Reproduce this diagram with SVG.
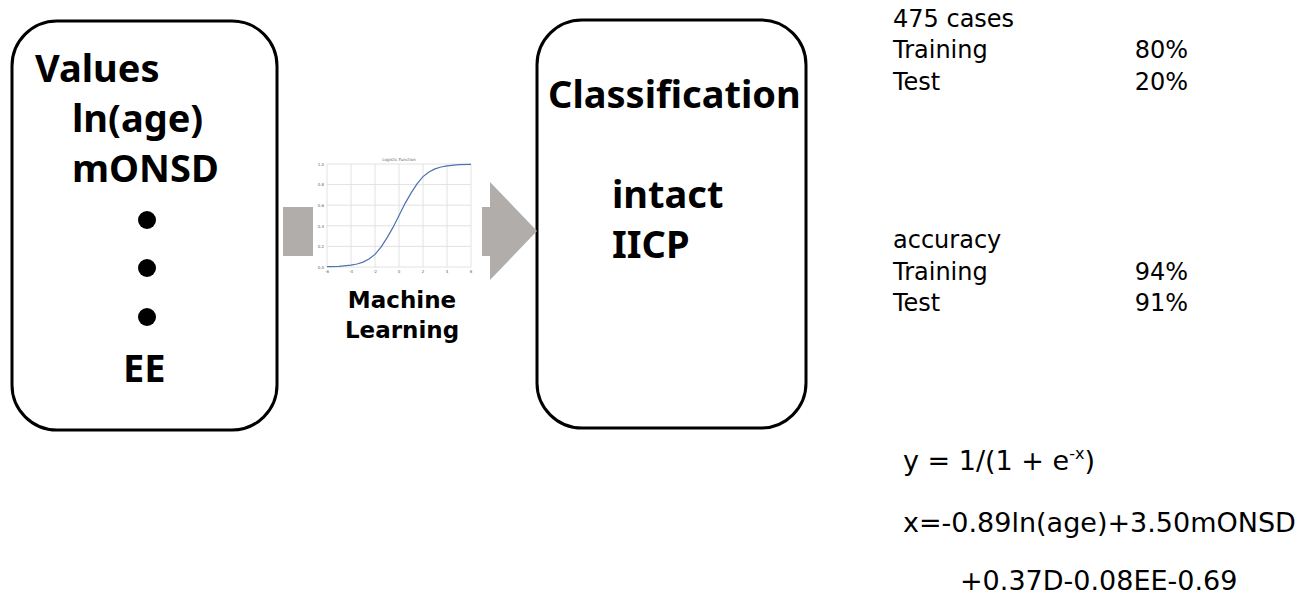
<svg xmlns="http://www.w3.org/2000/svg" width="1301" height="609" viewBox="0 0 1301 609">
  <style>
    .box { fill: #ffffff; stroke: #000000; stroke-width: 3; }
    .big { font-family: "Noto Sans", "DejaVu Sans", sans-serif; font-weight: bold; font-size: 38px; fill: #000; }
    .mid { font-family: "DejaVu Sans", "Noto Sans", sans-serif; font-weight: bold; font-size: 23px; fill: #000; }
    .info { font-family: "DejaVu Sans", "Noto Sans", sans-serif; font-size: 24px; fill: #000; }
    .eq { font-family: "DejaVu Sans", "Noto Sans", sans-serif; font-size: 27px; fill: #000; }
    .arrow { fill: #b0adab; }
    .grid { stroke: #e2e2e2; stroke-width: 1; fill: none; }
    .tick { font-family: "DejaVu Sans", sans-serif; font-size: 4px; fill: #666; }
  </style>
  <rect width="1301" height="609" fill="#ffffff"/>

  <!-- input values -->
  <g id="values">
    <rect class="box" x="12" y="21" width="265" height="409" rx="45" ry="45"/>
    <text class="big" x="35" y="82" font-size="39">Values</text>
    <text class="big" x="72" y="132">ln(age)</text>
    <text class="big" x="72" y="182">mONSD</text>
    <circle cx="147" cy="220" r="9"/>
    <circle cx="147" cy="268" r="9"/>
    <circle cx="147" cy="317" r="9"/>
    <text class="big" x="123" y="382">EE</text>
  </g>

  <!-- classification output -->
  <g id="classification">
    <rect class="box" x="537" y="20" width="269" height="408" rx="45" ry="45"/>
    <text class="big" x="548" y="108">Classification</text>
    <text class="big" x="612" y="208">intact</text>
    <text class="big" x="612" y="258">IICP</text>
  </g>

  <!-- machine learning step with logistic curve -->
  <g id="machine-learning">
    <rect x="317" y="156" width="160" height="123" fill="#ffffff"/>
    <g class="grid">
      <line x1="327" y1="164" x2="327" y2="267"/>
      <line x1="351" y1="164" x2="351" y2="267"/>
      <line x1="375" y1="164" x2="375" y2="267"/>
      <line x1="399" y1="164" x2="399" y2="267"/>
      <line x1="423" y1="164" x2="423" y2="267"/>
      <line x1="447" y1="164" x2="447" y2="267"/>
      <line x1="471" y1="164" x2="471" y2="267"/>
      <line x1="327" y1="164" x2="471" y2="164"/>
      <line x1="327" y1="184.6" x2="471" y2="184.6"/>
      <line x1="327" y1="205.2" x2="471" y2="205.2"/>
      <line x1="327" y1="225.8" x2="471" y2="225.8"/>
      <line x1="327" y1="246.4" x2="471" y2="246.4"/>
      <line x1="327" y1="267" x2="471" y2="267"/>
    </g>
    <text class="tick" x="399" y="161" text-anchor="middle" font-size="5">Logistic Function</text>
    <g class="tick" text-anchor="end">
      <text x="324" y="166">1.0</text>
      <text x="324" y="186">0.8</text>
      <text x="324" y="207">0.6</text>
      <text x="324" y="228">0.4</text>
      <text x="324" y="248">0.2</text>
      <text x="324" y="269">0.0</text>
    </g>
    <g class="tick" text-anchor="middle">
      <text x="327" y="273">-6</text>
      <text x="351" y="273">-4</text>
      <text x="375" y="273">-2</text>
      <text x="399" y="273">0</text>
      <text x="423" y="273">2</text>
      <text x="447" y="273">4</text>
      <text x="471" y="273">6</text>
    </g>
    <path fill="none" stroke="#4c72b0" stroke-width="1.2"
      d="M327,266.7 L339,266.3 L351,265.2 L357,264.0 L363,262.1 L369,259.0 L375,254.4 L381,247.2 L387,237.9 L393,227.4 L399,215.5 L405,203.6 L411,193.1 L417,183.8 L423,176.6 L429,172.0 L435,168.9 L441,167.0 L447,165.8 L459,164.7 L471,164.3"/>
    <text class="mid" x="402" y="308" text-anchor="middle">Machine</text>
    <text class="mid" x="402" y="338" text-anchor="middle">Learning</text>
  </g>

  <!-- flow arrows -->
  <g id="connectors">
    <rect class="arrow" x="283" y="207" width="30" height="49"/>
    <path class="arrow" d="M482,207 L490,207 L490,182 L537,231 L490,280 L490,256 L482,256 Z"/>
  </g>

  <!-- dataset split -->
  <g id="dataset">
    <text class="info" x="893" y="27">475 cases</text>
    <text class="info" x="893" y="58">Training</text>
    <text class="info" x="1188" y="58" text-anchor="end">80%</text>
    <text class="info" x="893" y="90">Test</text>
    <text class="info" x="1188" y="90" text-anchor="end">20%</text>
  </g>

  <!-- accuracy -->
  <g id="accuracy">
    <text class="info" x="893" y="248">accuracy</text>
    <text class="info" x="893" y="280">Training</text>
    <text class="info" x="1188" y="280" text-anchor="end">94%</text>
    <text class="info" x="893" y="311">Test</text>
    <text class="info" x="1188" y="311" text-anchor="end">91%</text>
  </g>

  <!-- model equation -->
  <g id="equation">
    <text class="eq" x="903" y="470">y = 1/(1 + e<tspan font-size="16" dy="-11">-x</tspan><tspan dy="11">)</tspan></text>
    <text class="eq" x="903" y="532">x=-0.89ln(age)+3.50mONSD</text>
    <text class="eq" x="960" y="590">+0.37D-0.08EE-0.69</text>
  </g>
</svg>
